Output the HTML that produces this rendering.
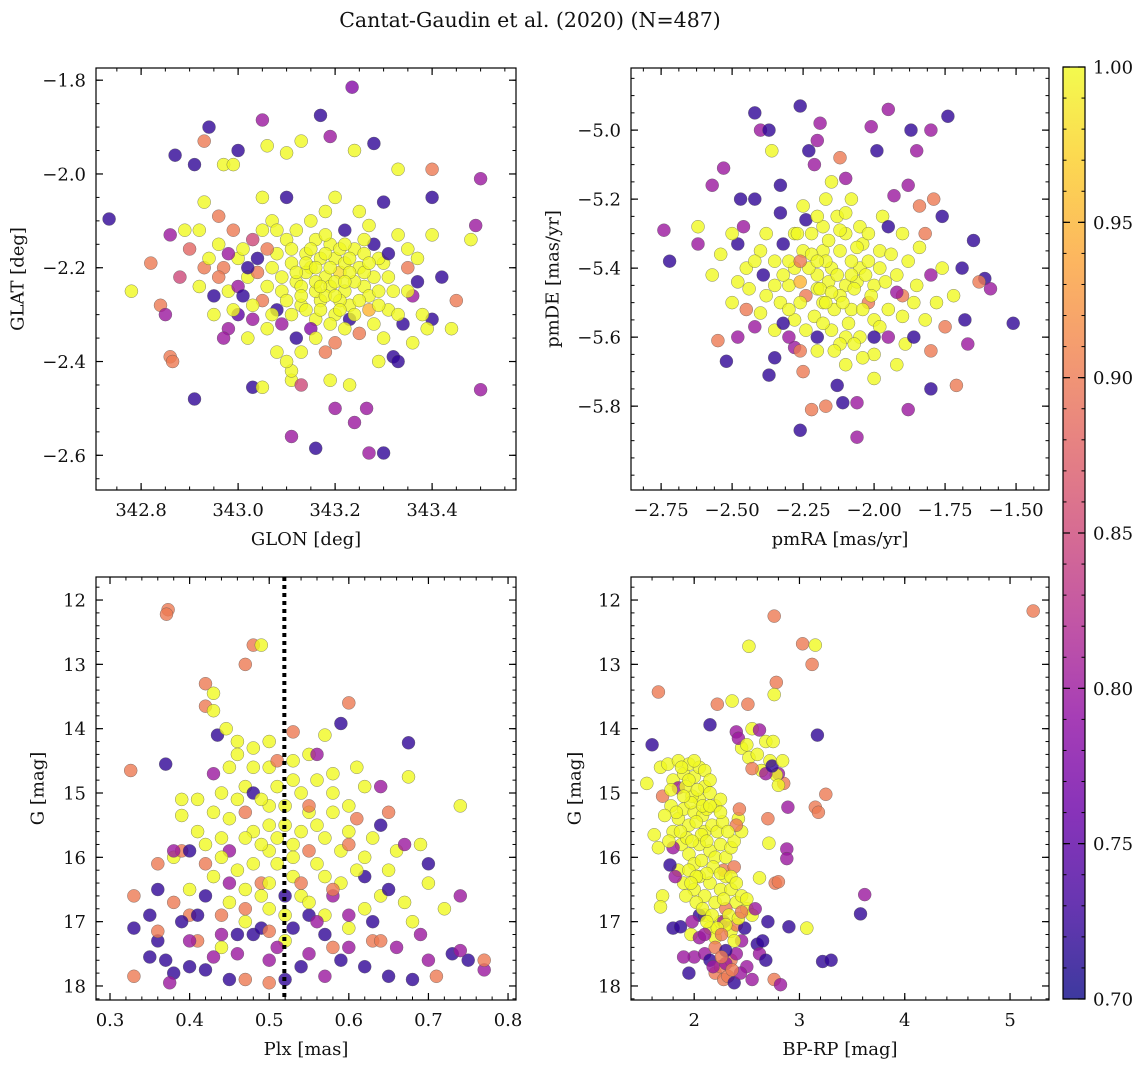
<!DOCTYPE html>
<html><head><meta charset="utf-8">
<style>
html,body{margin:0;padding:0;background:#fff;}
svg text{font-family:"DejaVu Serif","Liberation Serif",serif;fill:#111;}
</style></head>
<body>
<svg id="fig" width="1148" height="1067" viewBox="0 0 1148 1067" xmlns="http://www.w3.org/2000/svg">
<defs>
<linearGradient id="cbgrad" x1="0" y1="1" x2="0" y2="0">
<stop offset="0" stop-color="#0d0887"/><stop offset="0.1" stop-color="#41049d"/><stop offset="0.2" stop-color="#6a00a8"/><stop offset="0.3" stop-color="#8f0da4"/><stop offset="0.4" stop-color="#b12a90"/><stop offset="0.5" stop-color="#cc4778"/><stop offset="0.6" stop-color="#e16462"/><stop offset="0.7" stop-color="#f2844b"/><stop offset="0.8" stop-color="#fca636"/><stop offset="0.9" stop-color="#fcce25"/><stop offset="1" stop-color="#f0f921"/>
</linearGradient>
</defs>
<text x="530" y="27" font-size="20.5" text-anchor="middle">Cantat-Gaudin et al. (2020) (N=487)</text>
</svg>
<script>
// ---------- DATA ----------
const tlPoints = [ // [GLON, GLAT, prob]
[342.734,-2.096,0.72],[342.78,-2.25,1],[342.82,-2.19,0.9],[342.84,-2.28,0.9],[342.85,-2.30,0.8],[342.86,-2.39,0.9],[342.865,-2.40,0.9],[342.87,-1.96,0.72],[342.91,-2.48,0.72],[342.94,-1.90,0.72],[342.93,-1.93,0.9],[342.91,-1.98,0.72],[342.89,-2.12,1],[342.92,-2.12,1],[342.97,-1.98,1],[342.99,-1.98,1],[343.0,-1.95,0.72],[343.05,-1.885,0.8],[343.06,-1.94,1],[343.10,-1.955,1],[343.13,-1.93,1],[343.17,-1.875,0.72],[343.235,-1.815,0.78],[343.24,-1.95,1],[343.19,-1.92,0.8],[343.28,-1.935,0.72],[343.33,-1.99,1],[343.40,-1.99,0.9],[343.40,-2.05,0.72],[343.50,-2.01,0.8],[343.49,-2.11,0.8],[343.48,-2.14,1],[343.50,-2.46,0.8],[343.40,-2.31,0.72],[343.39,-2.33,1],[343.36,-2.36,1],[343.32,-2.39,0.72],[343.29,-2.40,1],[343.265,-2.50,0.8],[343.24,-2.53,0.8],[343.20,-2.50,0.8],[343.16,-2.585,0.72],[343.11,-2.56,0.8],[343.27,-2.595,0.8],[343.30,-2.595,0.72],[343.03,-2.455,0.72],[343.05,-2.455,1],[342.98,-2.33,0.8],[343.11,-2.44,1],[343.11,-2.42,1],[343.19,-2.44,1],
[343.15,-2.2,1],[343.18,-2.22,1],[343.2,-2.18,1],[343.22,-2.25,1],[343.17,-2.27,1],[343.12,-2.23,1],[343.25,-2.2,1],[343.19,-2.15,1],[343.14,-2.17,1],[343.23,-2.28,1],[343.16,-2.31,1],[343.21,-2.21,0.98],[343.26,-2.24,1],[343.11,-2.19,1],[343.13,-2.28,1],[343.24,-2.16,1],[343.28,-2.22,1],[343.09,-2.25,1],[343.19,-2.24,1],[343.17,-2.18,1],[343.2,-2.3,1],[343.1,-2.14,1],[343.27,-2.29,0.95],[343.3,-2.19,1],[343.32,-2.25,1],[343.07,-2.2,1],[343.05,-2.27,0.9],[343.02,-2.22,1],[343.0,-2.18,1],[342.98,-2.25,1],[342.96,-2.15,1],[342.93,-2.2,0.9],[342.95,-2.3,1],[342.97,-2.35,0.8],[343.0,-2.3,0.75],[343.03,-2.14,0.85],[343.06,-2.33,1],[343.08,-2.38,1],[343.1,-2.4,1],[343.12,-2.35,0.72],[343.15,-2.1,1],[343.18,-2.08,1],[343.22,-2.12,0.72],[343.25,-2.08,1],[343.28,-2.15,0.72],[343.33,-2.13,1],[343.35,-2.2,0.9],[343.36,-2.26,0.8],[343.38,-2.3,1],[343.34,-2.32,0.72],[343.3,-2.35,1],[343.25,-2.34,0.9],[343.2,-2.36,0.9],[343.15,-2.33,0.78],[343.08,-2.29,0.72],[343.04,-2.18,0.72],[342.99,-2.12,0.9],[342.92,-2.24,1],[342.9,-2.16,0.88],[343.05,-2.05,1],[343.1,-2.05,0.72],[343.2,-2.05,1],[343.3,-2.06,0.72],[343.4,-2.13,1],[343.42,-2.22,0.72],[343.45,-2.27,0.9],[343.44,-2.33,1],[342.93,-2.06,1],[342.96,-2.09,0.9],[343.02,-2.35,1],[343.13,-2.45,0.85],[343.23,-2.45,1],[343.33,-2.4,0.72],[343.18,-2.38,0.9],[343.27,-2.11,1],[343.12,-2.12,1],[342.88,-2.22,0.85],[342.86,-2.13,0.8],[343.07,-2.1,1],[343.16,-2.25,1],[343.22,-2.19,1],[343.2,-2.23,1],[343.14,-2.21,1],[343.24,-2.23,1],[343.18,-2.26,1],
[343.0,-2.24,0.8],[342.97,-2.2,0.9],[343.03,-2.28,1],[343.01,-2.16,1],[342.95,-2.26,0.72],[343.09,-2.32,0.8],[343.27,-2.26,1],[343.23,-2.31,0.72],[343.29,-2.18,1],[343.21,-2.16,1],[343.16,-2.14,1],[343.13,-2.24,1],[343.26,-2.17,1],[343.31,-2.29,1],[343.35,-2.16,1],[343.37,-2.23,0.72],[343.11,-2.3,1],[343.06,-2.24,1],[343.04,-2.21,0.9],[343.08,-2.17,1],
[343.14,-2.19,1],[343.16,-2.23,1],[343.19,-2.2,1],[343.21,-2.27,1],[343.23,-2.21,1],[343.25,-2.27,1],[343.17,-2.29,1],[343.13,-2.26,1],[343.15,-2.16,1],[343.18,-2.13,1],[343.22,-2.15,1],[343.26,-2.21,1],[343.29,-2.25,1],[343.24,-2.3,1],[343.19,-2.32,1],[343.12,-2.21,1],[343.1,-2.27,1],[343.16,-2.2,1],[343.2,-2.26,1],[343.22,-2.23,1],[343.18,-2.17,1],[343.27,-2.19,1],[343.14,-2.29,1],[343.11,-2.16,1],[343.09,-2.22,1],[343.31,-2.22,1],[343.28,-2.32,1],[343.23,-2.18,1],[343.17,-2.24,1],[343.21,-2.29,1],[342.96,-2.22,0.9],[342.98,-2.17,0.8],[343.01,-2.26,0.72],[343.03,-2.31,0.8],[342.94,-2.18,1],[343.06,-2.16,0.9],[343.02,-2.2,0.72],[342.99,-2.29,1],[343.07,-2.3,1],[343.05,-2.12,1],[343.35,-2.25,1],[343.33,-2.3,1],[343.37,-2.18,1],[343.31,-2.17,0.72],[343.29,-2.28,1],[343.16,-2.35,1],[343.22,-2.33,1],[343.13,-2.38,1],[343.26,-2.14,1],[343.08,-2.12,1]
];
const trPoints = [ // [pmRA, pmDE, prob]
[-2.74,-5.29,0.8],[-2.72,-5.38,0.72],[-2.62,-5.33,0.8],[-2.57,-5.16,0.8],[-2.53,-5.11,0.8],[-2.52,-5.67,0.72],[-2.48,-5.60,0.8],[-2.55,-5.61,0.9],[-2.42,-4.95,0.72],[-2.40,-5.0,0.8],[-2.37,-5.0,0.72],[-2.26,-4.93,0.72],[-2.23,-5.06,0.72],[-2.36,-5.06,1],[-2.20,-5.03,0.8],[-2.19,-4.98,0.8],[-2.01,-4.99,0.8],[-1.95,-4.94,0.8],[-1.99,-5.06,0.72],[-1.87,-5.0,0.72],[-1.74,-4.96,0.72],[-1.80,-5.0,0.8],[-1.85,-5.06,0.8],[-1.76,-5.25,0.72],[-1.65,-5.32,0.72],[-1.69,-5.40,0.72],[-1.61,-5.43,0.72],[-1.59,-5.46,0.8],[-1.63,-5.44,0.9],[-1.51,-5.56,0.72],[-1.68,-5.55,0.72],[-1.67,-5.62,0.8],[-1.71,-5.74,0.9],[-1.80,-5.75,0.72],[-1.88,-5.81,0.8],[-1.89,-5.62,1],[-2.06,-5.89,0.8],[-2.06,-5.79,0.8],[-2.11,-5.79,0.72],[-2.26,-5.87,0.72],[-2.22,-5.81,0.9],[-2.17,-5.80,0.9],[-2.35,-5.66,0.72],[-2.37,-5.71,0.72],[-2.28,-5.63,0.8],[-2.44,-5.46,1],[-2.39,-5.42,0.72],[-2.42,-5.57,0.8],[-2.48,-5.33,0.72],[-2.47,-5.2,0.72],[-2.42,-5.2,0.72],[-2.33,-5.16,0.72],[-2.33,-5.24,0.72],[-2.21,-5.1,0.8],[-2.12,-5.08,0.9],[-2.10,-5.14,0.8],[-1.93,-5.19,0.8],[-1.88,-5.16,0.8],[-1.79,-5.2,0.9],[-1.84,-5.22,0.9],
[-2.15,-5.4,1],[-2.1,-5.45,1],[-2.2,-5.42,1],[-2.12,-5.35,1],[-2.05,-5.4,1],[-2.18,-5.5,1],[-2.08,-5.52,1],[-2.25,-5.35,1],[-2.22,-5.3,1],[-2.0,-5.45,1],[-1.98,-5.35,1],[-2.3,-5.45,1],[-2.28,-5.55,1],[-2.15,-5.58,1],[-2.05,-5.6,1],[-1.95,-5.52,1],[-1.92,-5.42,1],[-2.13,-5.25,1],[-2.05,-5.28,1],[-2.35,-5.38,1],[-2.38,-5.3,1],[-2.25,-5.22,1],[-2.17,-5.2,1],[-1.9,-5.3,1],[-1.85,-5.45,1],[-1.82,-5.55,1],[-2.0,-5.65,1],[-2.1,-5.68,1],[-2.2,-5.64,1],[-2.33,-5.5,1],[-2.4,-5.35,1],[-2.45,-5.4,1],[-2.5,-5.3,1],[-2.57,-5.42,1],[-2.62,-5.28,1],[-2.28,-5.4,1],[-2.18,-5.35,1],[-2.08,-5.38,1],[-2.1,-5.3,1],[-2.2,-5.46,1],[-2.24,-5.48,0.9],[-2.02,-5.5,0.9],[-1.95,-5.6,0.8],[-2.3,-5.6,0.8],[-2.35,-5.58,1],[-2.4,-5.53,1],[-2.15,-5.15,1],[-2.08,-5.2,1],[-1.97,-5.25,1],[-1.88,-5.38,1],[-1.78,-5.5,1],[-1.75,-5.57,0.9],[-1.8,-5.42,0.8],[-1.72,-5.48,1],[-2.0,-5.72,1],[-2.13,-5.74,0.72],[-2.25,-5.7,0.9],[-2.12,-5.48,1],[-2.16,-5.44,1],[-2.26,-5.44,0.95],[-2.04,-5.33,1],[-2.0,-5.55,1],[-1.9,-5.48,0.9],[-2.32,-5.33,0.72],[-2.2,-5.6,0.72],[-2.06,-5.44,1],[-2.14,-5.52,1],[-2.24,-5.26,0.72],[-1.92,-5.68,1],[-2.45,-5.52,0.9],[-2.5,-5.5,1],[-1.95,-5.28,0.72],[-2.28,-5.3,1],[-2.18,-5.28,1],[-1.86,-5.6,0.72],[-1.8,-5.64,0.9],[-2.1,-5.6,1],[-2.04,-5.66,1],[-2.32,-5.42,1],[-2.02,-5.38,1],[-1.96,-5.44,1],
[-2.17,-5.38,1],[-2.13,-5.42,1],[-2.19,-5.46,1],[-2.11,-5.5,1],[-2.07,-5.46,1],[-2.03,-5.42,1],[-2.23,-5.4,1],[-2.26,-5.5,1],[-2.21,-5.54,1],[-2.15,-5.47,1],[-2.09,-5.56,1],[-2.01,-5.48,1],[-1.98,-5.4,1],[-2.16,-5.32,1],[-2.22,-5.36,1],[-2.3,-5.38,1],[-2.27,-5.3,1],[-2.12,-5.29,1],[-2.06,-5.34,1],[-1.94,-5.36,1],[-1.98,-5.57,1],[-2.12,-5.62,1],[-2.18,-5.56,1],[-2.24,-5.58,1],[-2.3,-5.52,1],[-2.35,-5.45,1],[-2.38,-5.48,1],[-2.42,-5.38,1],[-2.2,-5.25,1],[-2.1,-5.24,1],[-2.02,-5.3,1],[-1.9,-5.54,1],[-1.86,-5.5,1],[-2.07,-5.62,1],[-2.14,-5.64,1],[-2.04,-5.52,1],[-2.17,-5.5,1],[-2.08,-5.42,1],[-2.26,-5.38,0.9],[-2.2,-5.38,1],[-2.32,-5.56,0.72],[-2.0,-5.6,0.72],[-1.92,-5.47,0.8],[-2.48,-5.44,1],[-2.54,-5.36,1],[-2.46,-5.28,0.8],[-1.84,-5.34,1],[-1.76,-5.4,1],[-1.82,-5.3,0.9],[-2.26,-5.64,0.9]
];
const blPoints = [ // [Plx, G, prob]
[0.373,12.15,0.9],[0.371,12.22,0.9],[0.48,12.7,0.9],[0.49,12.7,1],[0.47,13.0,0.9],[0.42,13.3,0.9],[0.43,13.45,1],[0.42,13.65,0.9],[0.43,13.72,1],[0.60,13.6,0.9],[0.59,13.92,0.72],[0.435,14.1,0.72],[0.446,14.0,1],[0.53,14.05,0.9],[0.57,14.1,1],[0.675,14.22,0.72],[0.37,14.55,0.72],[0.326,14.65,0.9],[0.675,14.75,1],[0.74,15.2,1],[0.46,14.2,1],[0.48,14.3,1],[0.5,14.6,1],[0.55,14.4,1],[0.53,14.8,1],[0.47,14.9,1],[0.44,15.0,1],[0.41,15.1,1],[0.39,15.35,1],[0.58,15.0,1],[0.6,15.2,1],[0.62,14.9,1],[0.65,15.3,0.9],[0.5,15.2,1],[0.52,15.5,1],[0.55,15.3,1],[0.48,15.6,1],[0.45,15.4,1],[0.57,15.7,1],[0.6,15.6,1],[0.42,15.8,1],[0.5,15.9,1],[0.53,16.0,1],[0.56,16.1,1],[0.46,16.2,1],[0.62,16.0,1],[0.66,15.9,1],[0.69,15.8,1],[0.7,16.4,1],[0.64,16.6,1],[0.59,16.4,1],[0.54,16.6,1],[0.5,16.8,1],[0.45,16.7,1],[0.4,16.5,1],[0.38,16.0,1],[0.43,16.3,1],[0.57,16.9,1],[0.6,17.1,1],[0.47,17.0,1],[0.52,17.3,1],[0.44,17.4,1],[0.68,17.0,1],[0.72,16.8,1],[0.39,15.9,0.9],[0.36,16.1,0.9],[0.4,16.9,0.9],[0.55,15.9,0.9],[0.61,15.4,0.9],[0.47,15.3,0.9],[0.51,14.5,0.9],[0.56,14.4,0.8],[0.43,14.7,0.8],[0.58,16.6,0.8],[0.63,17.3,0.9],[0.49,16.4,0.9],
[0.33,17.1,0.72],[0.35,16.9,0.72],[0.36,17.3,0.72],[0.37,17.6,0.72],[0.38,17.8,0.72],[0.4,17.7,0.72],[0.42,17.75,0.72],[0.45,17.9,0.72],[0.39,17.0,0.72],[0.41,16.9,0.72],[0.44,17.2,0.8],[0.46,17.5,0.8],[0.48,17.2,0.72],[0.5,17.6,0.8],[0.52,17.9,0.72],[0.55,17.5,0.8],[0.57,17.2,0.72],[0.6,17.4,0.8],[0.62,17.7,0.72],[0.65,17.85,0.72],[0.68,17.9,0.72],[0.7,17.6,0.8],[0.73,17.5,0.72],[0.75,17.6,0.72],[0.77,17.75,0.8],[0.7,16.1,0.72],[0.65,16.5,0.72],[0.6,16.9,0.8],[0.55,16.9,0.72],[0.45,16.4,0.8],[0.42,16.6,0.72],[0.38,16.7,0.9],[0.33,16.6,0.9],[0.33,17.85,0.9],[0.36,17.15,0.9],[0.41,17.3,0.9],[0.47,17.9,0.9],[0.5,17.95,0.9],[0.58,17.4,0.9],[0.64,17.3,0.9],[0.71,17.85,0.9],[0.77,17.6,0.9],[0.74,17.45,0.8],[0.74,16.6,0.8],[0.69,17.2,0.8],[0.64,15.5,0.72],[0.67,15.8,0.8],[0.62,16.3,0.72],[0.54,17.7,0.72],[0.53,17.1,0.72],[0.49,17.1,0.72],[0.43,17.55,0.8],[0.375,17.95,0.8],[0.36,16.5,0.72],[0.4,15.9,0.72],[0.38,15.9,0.8],[0.45,15.9,0.8],[0.48,15.0,0.72],
[0.5,15.5,1],[0.51,15.7,1],[0.53,15.8,1],[0.49,15.8,1],[0.51,16.1,1],[0.54,15.6,1],[0.56,15.5,1],[0.47,15.7,1],[0.46,15.1,1],[0.49,15.1,1],[0.52,15.2,1],[0.54,15.0,1],[0.51,14.9,1],[0.48,14.6,1],[0.45,14.6,1],[0.58,15.3,1],[0.57,16.3,1],[0.53,16.3,1],[0.5,16.4,1],[0.48,16.1,1],[0.44,16.0,1],[0.55,16.7,1],[0.52,16.9,1],[0.49,16.6,1],[0.47,16.5,1],[0.59,15.9,1],[0.61,16.2,1],[0.63,15.7,1],[0.58,14.7,1],[0.61,14.6,1],[0.43,15.3,1],[0.41,15.6,1],[0.44,15.7,1],[0.39,15.1,1],[0.56,14.8,1],[0.53,14.5,1],[0.46,14.4,1],[0.5,14.2,1],[0.65,16.2,1],[0.67,16.7,1],[0.62,16.8,1],[0.58,16.5,0.9],[0.54,16.4,0.9],[0.47,16.8,0.9],[0.42,16.1,0.9],[0.55,15.2,0.9],[0.6,15.8,0.9],[0.64,14.9,0.8],[0.52,16.6,0.72],[0.56,17.0,0.8],[0.46,17.2,0.72],[0.51,17.4,0.8],[0.59,17.6,0.72],[0.66,17.4,0.8],[0.63,17.0,0.72],[0.4,17.3,0.8],[0.35,17.55,0.72],[0.57,17.85,0.8],[0.44,16.9,0.9],[0.5,17.15,0.9]
];
const brPoints = [ // [BP-RP, G, prob]
[5.22,12.17,0.9],[2.76,12.25,0.9],[2.52,12.72,1],[3.03,12.68,0.9],[3.15,12.7,1],[3.12,13.0,0.9],[2.78,13.28,0.9],[2.76,13.47,1],[1.66,13.43,0.9],[2.22,13.62,0.9],[2.36,13.57,1],[2.51,13.62,0.9],[2.15,13.94,0.72],[3.17,14.1,0.72],[1.6,14.25,0.72],[3.62,16.58,0.8],[3.58,16.88,0.72],[3.22,17.62,0.72],[3.3,17.6,0.72],[2.9,17.08,0.72],[3.07,17.1,1],[2.88,15.87,0.8],[2.88,16.02,0.8],[2.89,15.22,0.8],[3.15,15.22,0.9],[3.25,15.02,0.9],[3.18,15.3,0.9],[2.85,14.85,0.9],[2.8,14.7,0.8],[2.7,15.4,0.9],[2.71,15.78,1],[2.77,16.4,0.9],[2.8,16.38,0.9],[2.62,16.32,1],
[2.4,14.05,0.8],[2.55,14.0,1],[2.62,14.02,0.8],[2.68,14.2,1],[2.45,14.3,1],[2.52,14.45,1],[2.6,14.4,1],[2.72,14.5,1],[2.78,14.72,1],[2.8,14.88,1],[2.64,14.65,1],[2.55,14.62,0.9],[2.68,14.7,0.8],[2.74,14.58,0.72],[2.42,14.15,0.8],[2.5,14.25,1],[2.75,14.2,1],[2.84,14.5,1],
[1.55,14.85,1],[1.62,15.65,1],[1.66,15.85,1],[1.7,15.05,0.9],[1.68,14.6,1],[1.75,14.55,1],[1.8,14.8,1],[1.85,14.5,1],[1.9,14.7,1],[1.95,14.55,1],[2.0,14.75,1],[2.05,14.6,1],[1.78,15.2,1],[1.85,15.4,1],[1.9,15.25,1],[1.95,15.5,1],[2.0,15.3,1],[2.05,15.1,1],[2.1,14.9,1],[2.15,15.0,1],[2.2,15.2,1],[2.25,15.1,1],[1.8,15.6,1],[1.88,15.8,1],[1.95,15.95,1],[2.0,16.1,1],[2.05,15.8,1],[2.1,15.6,1],[2.15,15.9,1],[2.2,16.0,1],[2.25,15.8,1],[2.3,16.0,1],[2.35,15.85,1],[2.38,15.75,1],[2.42,15.4,1],[2.45,15.6,1],[1.85,16.2,1],[1.9,16.4,1],[1.95,16.2,1],[2.0,16.5,1],[2.05,16.3,1],[2.1,16.6,1],[2.15,16.4,1],[2.2,16.7,1],[2.25,16.5,1],[2.3,16.3,1],[2.35,16.5,1],[2.4,16.7,1],[2.45,16.6,1],[2.5,16.8,1],[1.7,16.6,1],[1.68,16.77,1],[2.1,16.9,1],[2.15,17.1,1],[2.2,17.25,1],[2.25,17.0,1],[2.35,17.15,1],[2.5,16.65,1],[2.55,16.9,1],[1.97,17.2,1],[2.08,15.35,1],[1.98,15.05,1],[2.12,15.25,1],[2.4,15.5,0.9],[2.43,15.25,0.9],[2.28,16.2,0.9],[2.38,16.15,0.9],[1.82,16.3,0.8],[1.8,15.85,0.8],[1.77,16.12,0.72],[1.85,14.92,0.8],
[1.8,17.1,0.72],[1.95,17.8,0.72],[2.0,17.55,0.8],[2.05,17.25,0.8],[2.1,17.5,0.8],[2.15,17.6,0.72],[2.2,17.8,0.9],[2.25,17.7,0.9],[2.28,17.9,0.9],[2.32,17.85,0.9],[2.35,17.6,0.9],[2.38,17.95,0.72],[2.4,17.5,0.8],[2.45,17.3,0.8],[2.5,17.7,0.8],[2.55,17.9,0.8],[2.6,17.35,0.72],[2.62,17.5,0.8],[2.65,17.3,0.72],[2.68,17.6,0.72],[2.7,17.0,0.72],[2.76,17.9,0.9],[2.82,17.98,0.8],[1.9,17.55,0.8],[2.28,17.0,0.8],[2.4,17.05,0.9],[2.48,17.1,0.72],[2.3,16.8,0.9],[2.58,16.8,0.8],[1.87,17.08,0.72],[2.2,17.4,0.9],[2.3,17.65,0.8],[2.05,16.9,0.72],
[1.92,14.9,1],[1.97,15.15,1],[2.02,15.45,1],[2.07,15.65,1],[2.12,15.75,1],[1.93,15.7,1],[1.87,15.6,1],[1.83,15.3,1],[1.9,15.05,1],[2.03,14.95,1],[2.08,15.2,1],[2.17,15.5,1],[2.22,15.6,1],[2.27,15.45,1],[2.32,15.6,1],[2.18,16.15,1],[2.12,16.25,1],[2.07,16.05,1],[2.02,16.3,1],[1.97,16.4,1],[1.92,16.6,1],[2.02,16.7,1],[2.08,16.8,1],[2.17,16.9,1],[2.28,16.65,1],[2.33,16.9,1],[2.42,16.95,1],[2.3,17.05,1],[2.22,17.1,1],[2.25,16.25,1],[2.35,16.3,1],[2.4,16.4,1],[1.98,15.75,1],[2.15,15.2,1],[2.25,15.3,1],[1.78,14.95,1],[1.72,15.35,1],[1.76,15.75,1],[1.95,14.8,1],[2.0,14.5,1],[2.1,14.65,1],[2.15,14.8,1],[1.88,14.6,1],[2.12,17.0,1],[2.38,17.3,1],[2.45,16.85,0.9],[2.26,17.2,0.9],[2.1,17.2,0.8],[1.98,17.0,0.8],[2.18,17.7,0.8],[2.3,17.45,0.72],[2.44,17.8,0.8],[2.36,17.75,0.9],[2.26,17.55,0.9]
];
const tlXTicks = [342.8, 343.0, 343.2, 343.4];
const tlYTicks = [-1.8, -2.0, -2.2, -2.4, -2.6];
const trXTicks = [-2.75, -2.50, -2.25, -2.00, -1.75, -1.50];
const trYTicks = [-5.0, -5.2, -5.4, -5.6, -5.8];
const blXTicks = [0.3, 0.4, 0.5, 0.6, 0.7, 0.8];
const gTicks = [12, 13, 14, 15, 16, 17, 18];
const brXTicks = [2, 3, 4, 5];
const cbTicks = [0.70, 0.75, 0.80, 0.85, 0.90, 0.95, 1.00];
const plxCut = [0.519];

// ---------- RENDER ----------
const NS = 'http://www.w3.org/2000/svg';
const svg = document.getElementById('fig');
function mk(tag, attrs, parent){ const e=document.createElementNS(NS,tag); for(const k in attrs) e.setAttribute(k,attrs[k]); (parent||svg).appendChild(e); return e; }
const stops=[[0,[13,8,135]],[0.1,[65,4,157]],[0.2,[106,0,168]],[0.3,[143,13,164]],[0.4,[177,42,144]],[0.5,[204,71,120]],[0.6,[225,100,98]],[0.7,[242,132,75]],[0.8,[252,166,54]],[0.9,[252,206,37]],[1,[240,249,33]]];
function plasma(p){ let t=Math.max(0,Math.min(1,(p-0.7)/0.3)); for(let i=1;i<stops.length;i++){ if(t<=stops[i][0]){ const a=stops[i-1],b=stops[i]; const f=(t-a[0])/(b[0]-a[0]); const c=a[1].map((v,j)=>Math.round(v+(b[1][j]-v)*f)); return `rgb(${c[0]},${c[1]},${c[2]})`; } } return 'rgb(240,249,33)'; }

const TF=18, LF=18;
const panels = [
 {id:'glon-glat', x0:96,x1:516,y0:68,y1:490, xr:[342.707,343.573], yr:[-1.774,-2.674], xt:tlXTicks, yt:tlYTicks, xm:0.05, ym:0.05, xf:v=>v.toFixed(1), yf:v=>'\u2212'+Math.abs(v).toFixed(1), xl:'GLON [deg]', yl:'GLAT [deg]', ylx:18, pts:tlPoints},
 {id:'pmra-pmde', x0:631,x1:1049,y0:68,y1:490, xr:[-2.856,-1.384], yr:[-4.820,-6.043], xt:trXTicks, yt:trYTicks, xm:0.0625, ym:0.05, xf:v=>'\u2212'+Math.abs(v).toFixed(2), yf:v=>'\u2212'+Math.abs(v).toFixed(1), xl:'pmRA [mas/yr]', yl:'pmDE [mas/yr]', ylx:553, pts:trPoints},
 {id:'plx-g', x0:96,x1:516,y0:577,y1:1000, xr:[0.2824,0.810], yr:[11.642,18.218], xt:blXTicks, yt:gTicks, xm:0.02, ym:0.2, xf:v=>v.toFixed(1), yf:v=>String(v), xl:'Plx [mas]', yl:'G [mag]', ylx:38, pts:blPoints, vline:plxCut},
 {id:'bprp-g', x0:631,x1:1049,y0:577,y1:1000, xr:[1.40,5.37], yr:[11.642,18.218], xt:brXTicks, yt:gTicks, xm:0.2, ym:0.2, xf:v=>String(v), yf:v=>String(v), xl:'BP-RP [mag]', yl:'G [mag]', ylx:575, pts:brPoints}
];

panels.forEach(P=>{
  const sx=v=>P.x0+(v-P.xr[0])/(P.xr[1]-P.xr[0])*(P.x1-P.x0);
  const sy=v=>P.y0+(v-P.yr[0])/(P.yr[1]-P.yr[0])*(P.y1-P.y0);
  const g=mk('g',{});
  
  
  const clipId='clip-'+P.id;
  const cp=mk('clipPath',{id:clipId},g); mk('rect',{x:P.x0,y:P.y0,width:P.x1-P.x0,height:P.y1-P.y0},cp);
  const pg=mk('g',{'clip-path':`url(#${clipId})`},g);
  
  
  P.pts.forEach(d=>{
    const c=mk('circle',{cx:sx(d[0]).toFixed(1),cy:sy(d[1]).toFixed(1),r:6.5,fill:plasma(d[2]),'fill-opacity':0.8,stroke:'#555','stroke-width':0.5,'stroke-opacity':0.7},pg);
    
    
  });
  if(P.vline){ P.vline.forEach(v=>{ const l=mk('line',{x1:sx(v),x2:sx(v),y1:P.y0,y2:P.y1,stroke:'#000','stroke-width':4,'stroke-dasharray':'4 4'},g);
    
     }); }
  const fr=mk('rect',{x:P.x0,y:P.y0,width:P.x1-P.x0,height:P.y1-P.y0,fill:'none',stroke:'#000','stroke-width':1.2},g);
  
  
  const xlo=Math.min(...P.xr), xhi=Math.max(...P.xr), ylo=Math.min(...P.yr), yhi=Math.max(...P.yr);
  for(let v=Math.ceil(xlo/P.xm-1e-6)*P.xm; v<=xhi; v+=P.xm){ const x=sx(v); mk('line',{x1:x,x2:x,y1:P.y1,y2:P.y1-3.5,stroke:'#000','stroke-width':1},g); mk('line',{x1:x,x2:x,y1:P.y0,y2:P.y0+3.5,stroke:'#000','stroke-width':1},g); }
  for(let v=Math.ceil(ylo/P.ym-1e-6)*P.ym; v<=yhi; v+=P.ym){ const y=sy(v); mk('line',{x1:P.x0,x2:P.x0+3.5,y1:y,y2:y,stroke:'#000','stroke-width':1},g); mk('line',{x1:P.x1,x2:P.x1-3.5,y1:y,y2:y,stroke:'#000','stroke-width':1},g); }
  P.xt.forEach(v=>{ const x=sx(v); mk('line',{x1:x,x2:x,y1:P.y1,y2:P.y1-7,stroke:'#000','stroke-width':1.2},g); mk('line',{x1:x,x2:x,y1:P.y0,y2:P.y0+7,stroke:'#000','stroke-width':1.2},g);
    const t=mk('text',{x:x,y:P.y1+26,'font-size':TF,'text-anchor':'middle'},g); t.textContent=P.xf(v);
    
     });
  P.yt.forEach(v=>{ const y=sy(v); mk('line',{x1:P.x0,x2:P.x0+7,y1:y,y2:y,stroke:'#000','stroke-width':1.2},g); mk('line',{x1:P.x1,x2:P.x1-7,y1:y,y2:y,stroke:'#000','stroke-width':1.2},g);
    const t=mk('text',{x:P.x0-10,y:y+6.5,'font-size':TF,'text-anchor':'end'},g); t.textContent=P.yf(v);
    
     });
  const xl=mk('text',{x:(P.x0+P.x1)/2,y:P.y1+55,'font-size':LF,'text-anchor':'middle'},g); xl.textContent=P.xl;
  
  
  const cy=(P.y0+P.y1)/2;
  const yl=mk('text',{x:P.ylx,y:cy,'font-size':LF,'text-anchor':'middle',transform:`rotate(-90 ${P.ylx} ${cy})`,'dominant-baseline':'central'},g); yl.textContent=P.yl;
  
  
});

// colorbar
(function(){
  const x0=1063,x1=1085,y0=67,y1=999;
  const g=mk('g',{});
  
  
  mk('rect',{x:x0,y:y0,width:x1-x0,height:y1-y0,fill:'url(#cbgrad)','fill-opacity':0.8},g);
  mk('rect',{x:x0,y:y0,width:x1-x0,height:y1-y0,fill:'none',stroke:'#000','stroke-width':1.2},g);
  const sy=v=>y1-(v-0.70)/0.30*(y1-y0);
  for(let i=0;i<=30;i++){ const v=0.70+i*0.01; const y=sy(v); mk('line',{x1:x1,x2:x1-3.5,y1:y,y2:y,stroke:'#000','stroke-width':1},g); mk('line',{x1:x0,x2:x0+3.5,y1:y,y2:y,stroke:'#000','stroke-width':1},g); }
  cbTicks.forEach(v=>{ const y=sy(v); mk('line',{x1:x1,x2:x1-7,y1:y,y2:y,stroke:'#000','stroke-width':1.2},g); mk('line',{x1:x0,x2:x0+7,y1:y,y2:y,stroke:'#000','stroke-width':1.2},g);
    const t=mk('text',{x:x1+8,y:y+6.5,'font-size':TF},g); t.textContent=v.toFixed(2);
    
     });
})();
</script>
</body></html>
